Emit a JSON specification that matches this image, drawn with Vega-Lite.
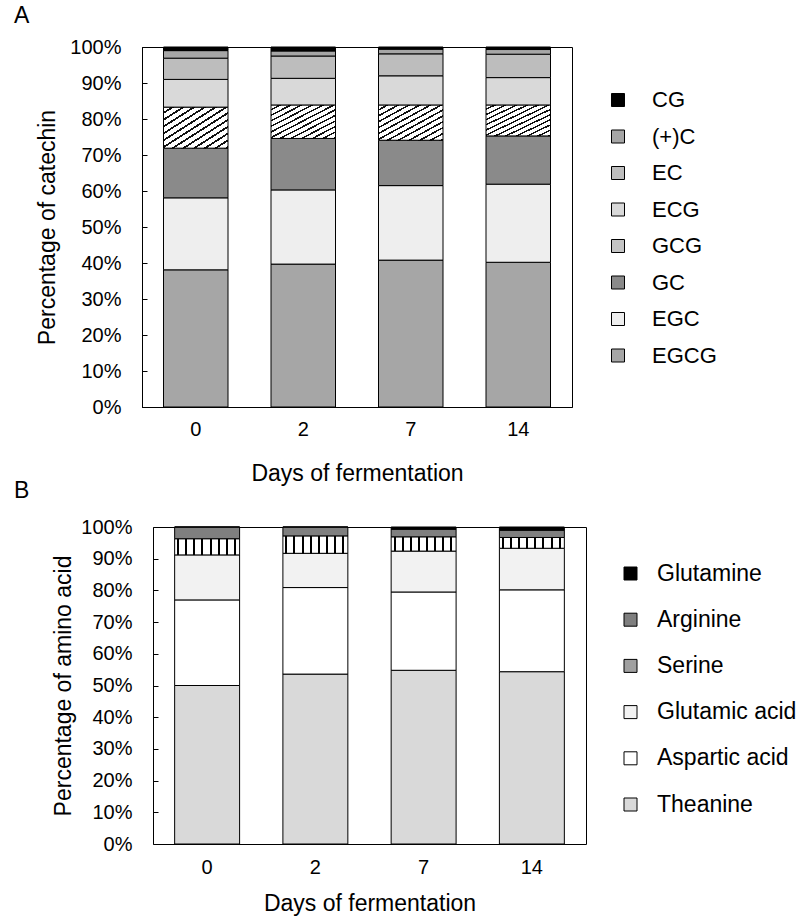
{
  "$schema": "https://vega.github.io/schema/vega-lite/v6.json",
  "padding": {"left": 13, "top": 4, "right": 0, "bottom": 5},
  "background": "white",
  "spacing": -6,
  "resolve": {"scale": {"color": "independent"}, "legend": {"color": "independent"}},
  "config": {
    "font": "Liberation Sans",
    "view": {"stroke": "black", "strokeWidth": 1},
    "axis": {
      "labelFont": "Liberation Sans", "labelFontSize": 20, "labelColor": "black",
      "titleFont": "Liberation Sans", "titleFontSize": 23, "titleFontWeight": "normal", "titleColor": "black",
      "domainColor": "black", "tickColor": "black", "grid": false
    },
    "legend": {
      "labelFont": "Liberation Sans", "labelColor": "black", "labelLimit": 300,
      "symbolType": "square", "symbolSize": 169, "symbolStrokeColor": "black", "symbolStrokeWidth": 1, "symbolOpacity": 1,
      "padding": 0, "title": null
    },
    "title": {"font": "Liberation Sans", "fontWeight": "normal", "color": "black", "fontSize": 23}
  },
  "vconcat": [
    {
      "title": {"text": "A", "anchor": "start", "frame": "group", "dx": -128, "offset": 9},
      "width": 430,
      "height": 360,
      "data": {"values": [
        {"day": "0", "compound": "EGCG", "value": 38.1},
        {"day": "0", "compound": "EGC", "value": 20.0},
        {"day": "0", "compound": "GC", "value": 13.8},
        {"day": "0", "compound": "GCG", "value": 11.4},
        {"day": "0", "compound": "ECG", "value": 7.7},
        {"day": "0", "compound": "EC", "value": 5.9},
        {"day": "0", "compound": "(+)C", "value": 2.1},
        {"day": "0", "compound": "CG", "value": 1.0},
        {"day": "2", "compound": "EGCG", "value": 39.7},
        {"day": "2", "compound": "EGC", "value": 20.6},
        {"day": "2", "compound": "GC", "value": 14.3},
        {"day": "2", "compound": "GCG", "value": 9.3},
        {"day": "2", "compound": "ECG", "value": 7.4},
        {"day": "2", "compound": "EC", "value": 6.2},
        {"day": "2", "compound": "(+)C", "value": 1.4},
        {"day": "2", "compound": "CG", "value": 1.1},
        {"day": "7", "compound": "EGCG", "value": 40.8},
        {"day": "7", "compound": "EGC", "value": 20.7},
        {"day": "7", "compound": "GC", "value": 12.6},
        {"day": "7", "compound": "GCG", "value": 9.8},
        {"day": "7", "compound": "ECG", "value": 8.1},
        {"day": "7", "compound": "EC", "value": 6.1},
        {"day": "7", "compound": "(+)C", "value": 1.3},
        {"day": "7", "compound": "CG", "value": 0.6},
        {"day": "14", "compound": "EGCG", "value": 40.2},
        {"day": "14", "compound": "EGC", "value": 21.7},
        {"day": "14", "compound": "GC", "value": 13.4},
        {"day": "14", "compound": "GCG", "value": 8.6},
        {"day": "14", "compound": "ECG", "value": 7.6},
        {"day": "14", "compound": "EC", "value": 6.5},
        {"day": "14", "compound": "(+)C", "value": 1.3},
        {"day": "14", "compound": "CG", "value": 0.7}
      ]},
      "transform": [
        {"calculate": "indexof(['EGCG','EGC','GC','GCG','ECG','EC','(+)C','CG'], datum.compound)", "as": "stackOrder"}
      ],
      "mark": {"type": "bar", "stroke": "black", "strokeWidth": 1, "opacity": 1},
      "encoding": {
        "x": {
          "field": "day", "type": "ordinal", "sort": ["0", "2", "7", "14"],
          "scale": {"paddingInner": 0.4, "paddingOuter": 0.2},
          "axis": {"title": "Days of fermentation", "labelAngle": 0, "ticks": false, "labelPadding": 12, "titlePadding": 23}
        },
        "y": {
          "field": "value", "type": "quantitative", "stack": "normalize",
          "axis": {"title": "Percentage of catechin", "format": ".0%", "values": [0, 0.1, 0.2, 0.3, 0.4, 0.5, 0.6, 0.7, 0.8, 0.9, 1], "tickSize": -5, "labelPadding": 26, "titlePadding": 10}
        },
        "order": {"field": "stackOrder", "type": "quantitative"},
        "color": {
          "field": "compound", "type": "nominal",
          "sort": ["EGCG", "EGC", "GC", "GCG", "ECG", "EC", "(+)C", "CG"],
          "scale": {"range": ["#a6a6a6", "#eeeeee", "#8a8a8a", "#c4c4c4", "#d9d9d9", "#bdbdbd", "#a6a6a6", "#000000"]},
          "condition": {"test": "datum.compound === 'GCG'", "value": {"gradient": "linear", "x1": 0, "y1": 0, "x2": 1, "y2": 1, "stops": [
              {"offset": 0, "color": "white"}, {"offset": 0.0583, "color": "white"}, {"offset": 0.0583, "color": "#111"}, {"offset": 0.0833, "color": "#111"},
              {"offset": 0.0833, "color": "white"}, {"offset": 0.1417, "color": "white"}, {"offset": 0.1417, "color": "#111"}, {"offset": 0.1667, "color": "#111"},
              {"offset": 0.1667, "color": "white"}, {"offset": 0.225, "color": "white"}, {"offset": 0.225, "color": "#111"}, {"offset": 0.25, "color": "#111"},
              {"offset": 0.25, "color": "white"}, {"offset": 0.3083, "color": "white"}, {"offset": 0.3083, "color": "#111"}, {"offset": 0.3333, "color": "#111"},
              {"offset": 0.3333, "color": "white"}, {"offset": 0.3917, "color": "white"}, {"offset": 0.3917, "color": "#111"}, {"offset": 0.4167, "color": "#111"},
              {"offset": 0.4167, "color": "white"}, {"offset": 0.475, "color": "white"}, {"offset": 0.475, "color": "#111"}, {"offset": 0.5, "color": "#111"},
              {"offset": 0.5, "color": "white"}, {"offset": 0.5583, "color": "white"}, {"offset": 0.5583, "color": "#111"}, {"offset": 0.5833, "color": "#111"},
              {"offset": 0.5833, "color": "white"}, {"offset": 0.6417, "color": "white"}, {"offset": 0.6417, "color": "#111"}, {"offset": 0.6667, "color": "#111"},
              {"offset": 0.6667, "color": "white"}, {"offset": 0.725, "color": "white"}, {"offset": 0.725, "color": "#111"}, {"offset": 0.75, "color": "#111"},
              {"offset": 0.75, "color": "white"}, {"offset": 0.8083, "color": "white"}, {"offset": 0.8083, "color": "#111"}, {"offset": 0.8333, "color": "#111"},
              {"offset": 0.8333, "color": "white"}, {"offset": 0.8917, "color": "white"}, {"offset": 0.8917, "color": "#111"}, {"offset": 0.9167, "color": "#111"},
              {"offset": 0.9167, "color": "white"}, {"offset": 0.975, "color": "white"}, {"offset": 0.975, "color": "#111"}, {"offset": 1, "color": "#111"}
            ]}},
          "legend": {
            "orient": "none", "legendX": 465, "legendY": 42,
            "values": ["CG", "(+)C", "EC", "ECG", "GCG", "GC", "EGC", "EGCG"],
            "labelFontSize": 22, "rowPadding": 14.5, "labelOffset": 23
          }
        }
      }
    },
    {
      "title": {"text": "B", "anchor": "start", "frame": "group", "dx": -128, "offset": 14},
      "width": 444,
      "height": 317,
      "view": {"stroke": null},
      "data": {"values": [
        {"day": "0", "acid": "Theanine", "value": 50.0},
        {"day": "0", "acid": "Aspartic acid", "value": 27.0},
        {"day": "0", "acid": "Glutamic acid", "value": 14.2},
        {"day": "0", "acid": "Serine", "value": 5.1},
        {"day": "0", "acid": "Arginine", "value": 3.7},
        {"day": "0", "acid": "Glutamine", "value": 0.0},
        {"day": "2", "acid": "Theanine", "value": 53.6},
        {"day": "2", "acid": "Aspartic acid", "value": 27.3},
        {"day": "2", "acid": "Glutamic acid", "value": 10.8},
        {"day": "2", "acid": "Serine", "value": 5.5},
        {"day": "2", "acid": "Arginine", "value": 2.8},
        {"day": "2", "acid": "Glutamine", "value": 0.0},
        {"day": "7", "acid": "Theanine", "value": 54.8},
        {"day": "7", "acid": "Aspartic acid", "value": 24.7},
        {"day": "7", "acid": "Glutamic acid", "value": 12.9},
        {"day": "7", "acid": "Serine", "value": 4.5},
        {"day": "7", "acid": "Arginine", "value": 2.4},
        {"day": "7", "acid": "Glutamine", "value": 0.7},
        {"day": "14", "acid": "Theanine", "value": 54.3},
        {"day": "14", "acid": "Aspartic acid", "value": 25.8},
        {"day": "14", "acid": "Glutamic acid", "value": 13.1},
        {"day": "14", "acid": "Serine", "value": 3.4},
        {"day": "14", "acid": "Arginine", "value": 2.3},
        {"day": "14", "acid": "Glutamine", "value": 1.0}
      ]},
      "transform": [
        {"calculate": "indexof(['Theanine','Aspartic acid','Glutamic acid','Serine','Arginine','Glutamine'], datum.acid)", "as": "stackOrder"}
      ],
      "layer": [
        {
          "mark": {"type": "bar", "stroke": "black", "strokeWidth": 1, "opacity": 1},
          "encoding": {
            "x": {
              "field": "day", "type": "ordinal", "sort": ["0", "2", "7", "14"],
              "scale": {"paddingInner": 0.4, "paddingOuter": 0.2, "range": [11, 444]},
              "axis": {"title": "Days of fermentation", "labelAngle": 0, "ticks": false, "labelPadding": 13, "titlePadding": 15}
            },
            "y": {
              "field": "value", "type": "quantitative", "stack": "normalize",
              "axis": {"title": "Percentage of amino acid", "format": ".0%", "values": [0, 0.1, 0.2, 0.3, 0.4, 0.5, 0.6, 0.7, 0.8, 0.9, 1], "tickSize": -5, "labelPadding": 26, "titlePadding": 5, "offset": -11}
            },
            "order": {"field": "stackOrder", "type": "quantitative"},
            "color": {
              "field": "acid", "type": "nominal",
              "sort": ["Theanine", "Aspartic acid", "Glutamic acid", "Serine", "Arginine", "Glutamine"],
              "scale": {"range": ["#d9d9d9", "#ffffff", "#f2f2f2", "#a0a0a0", "#7f7f7f", "#000000"]},
              "condition": {"test": "datum.acid === 'Serine'", "value": {"gradient": "linear", "x1": 0, "y1": 0, "x2": 1, "y2": 0, "stops": [
                  {"offset": 0, "color": "white"}, {"offset": 0.0375, "color": "white"}, {"offset": 0.0375, "color": "black"}, {"offset": 0.06875, "color": "black"}, {"offset": 0.06875, "color": "white"},
                  {"offset": 0.1625, "color": "white"}, {"offset": 0.1625, "color": "black"}, {"offset": 0.19375, "color": "black"}, {"offset": 0.19375, "color": "white"},
                  {"offset": 0.2875, "color": "white"}, {"offset": 0.2875, "color": "black"}, {"offset": 0.31875, "color": "black"}, {"offset": 0.31875, "color": "white"},
                  {"offset": 0.4125, "color": "white"}, {"offset": 0.4125, "color": "black"}, {"offset": 0.44375, "color": "black"}, {"offset": 0.44375, "color": "white"},
                  {"offset": 0.5375, "color": "white"}, {"offset": 0.5375, "color": "black"}, {"offset": 0.56875, "color": "black"}, {"offset": 0.56875, "color": "white"},
                  {"offset": 0.6625, "color": "white"}, {"offset": 0.6625, "color": "black"}, {"offset": 0.69375, "color": "black"}, {"offset": 0.69375, "color": "white"},
                  {"offset": 0.7875, "color": "white"}, {"offset": 0.7875, "color": "black"}, {"offset": 0.81875, "color": "black"}, {"offset": 0.81875, "color": "white"},
                  {"offset": 0.9125, "color": "white"}, {"offset": 0.9125, "color": "black"}, {"offset": 0.94375, "color": "black"}, {"offset": 0.94375, "color": "white"},
                  {"offset": 1, "color": "white"}
                ]}},
              "legend": {
                "orient": "none", "legendX": 477, "legendY": 35,
                "values": ["Glutamine", "Arginine", "Serine", "Glutamic acid", "Aspartic acid", "Theanine"],
                "labelFontSize": 23, "rowPadding": 22.2, "labelOffset": 15
              }
            }
          }
        },
        {
          "mark": {"type": "bar", "opacity": 0},
          "encoding": {
            "x": {
              "field": "day", "type": "ordinal", "sort": ["0", "2", "7", "14"],
              "axis": {"orient": "top", "title": null, "labels": false, "ticks": false}
            },
            "y": {
              "field": "value", "type": "quantitative", "stack": "normalize",
              "axis": {"orient": "right", "title": null, "labels": false, "ticks": false}
            }
          }
        }
      ],
      "resolve": {"axis": {"x": "independent", "y": "independent"}}
    }
  ]
}
